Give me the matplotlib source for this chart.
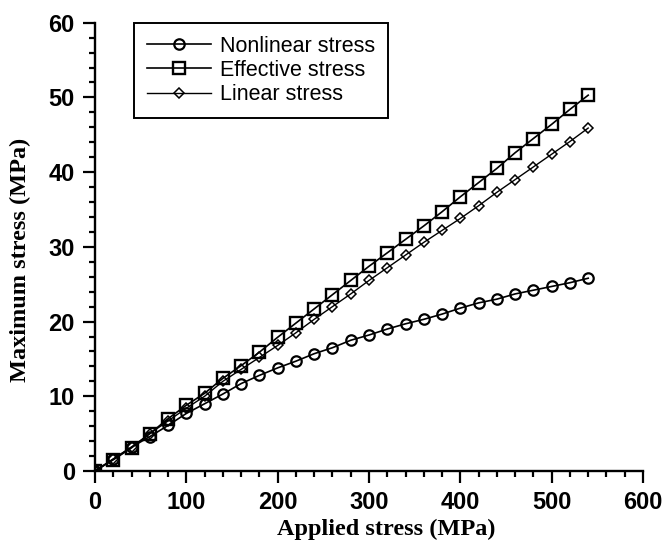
import matplotlib
matplotlib.use("Agg")
import matplotlib.pyplot as plt
from matplotlib.ticker import MultipleLocator

# applied stress (MPa) and the three computed maximum stresses (MPa)
applied = [0, 20, 40, 60, 80, 100, 120, 140, 160, 180, 200, 220, 240, 260,
           280, 300, 320, 340, 360, 380, 400, 420, 440, 460, 480, 500, 520, 540]
nonlinear = [0, 1.6, 3.2, 4.6, 6.1, 7.7, 9.0, 10.3, 11.7, 12.8, 13.8, 14.7, 15.7, 16.5,
             17.5, 18.2, 19.0, 19.7, 20.3, 21.0, 21.8, 22.5, 23.0, 23.7, 24.2, 24.7, 25.2, 25.8]
effective = [0, 1.5, 3.1, 5.0, 7.0, 8.8, 10.4, 12.4, 14.1, 15.9, 17.9, 19.8, 21.7, 23.6,
             25.5, 27.4, 29.2, 31.0, 32.8, 34.7, 36.7, 38.6, 40.5, 42.6, 44.5, 46.4, 48.4, 50.3]
linear = [0, 1.6, 3.2, 5.0, 6.7, 8.4, 10.0, 12.0, 13.6, 15.2, 16.8, 18.5, 20.3, 22.0,
          23.7, 25.5, 27.2, 28.9, 30.6, 32.2, 33.8, 35.5, 37.3, 39.0, 40.7, 42.4, 44.1, 45.9]

fig = plt.figure(figsize=(6.62, 5.42), dpi=100)
ax = fig.add_axes([0.1435, 0.131, 0.8278, 0.8271])

ax.plot(applied, nonlinear, "-o", color="black", lw=1.2, ms=7.5, mew=1.6,
        fillstyle="none", label="Nonlinear stress")
ax.plot(applied, effective, "-s", color="black", lw=1.2, ms=8, mew=1.7,
        fillstyle="none", label="Effective stress")
ax.plot(applied, linear, "-D", color="black", lw=1.0, ms=5.5, mew=1.1,
        fillstyle="none", label="Linear stress")

ax.set_xlim(0, 600)
ax.set_ylim(0, 60)
ax.xaxis.set_major_locator(MultipleLocator(100))
ax.xaxis.set_minor_locator(MultipleLocator(20))
ax.yaxis.set_major_locator(MultipleLocator(10))
ax.yaxis.set_minor_locator(MultipleLocator(2))

for s in ["top", "right"]:
    ax.spines[s].set_visible(False)
for s in ["left", "bottom"]:
    ax.spines[s].set_linewidth(1.7)

ax.tick_params(which="major", direction="out", length=8.5, width=1.6, pad=6,
               labelsize=17)
ax.tick_params(which="minor", direction="out", length=4.5, width=1.6)
for lab in ax.get_xticklabels() + ax.get_yticklabels():
    lab.set_fontfamily("Liberation Sans")
    lab.set_fontweight("bold")

ax.set_xlabel("Applied stress (MPa)", fontfamily="Liberation Serif",
              fontweight="bold", fontsize=17.5)
ax.set_ylabel("Maximum stress (MPa)", fontfamily="Liberation Serif",
              fontweight="bold", fontsize=17.5)
ax.xaxis.set_label_coords(0.531, -0.106)
ax.yaxis.set_label_coords(-0.117, 0.471)

leg = ax.legend(loc="upper left", bbox_to_anchor=(0.071, 1.0), borderaxespad=0,
                prop={"family": "Liberation Sans", "size": 15.5},
                handlelength=3.0, handletextpad=0.4, labelspacing=0.15,
                borderpad=0.6, fancybox=False, framealpha=1)
leg.get_frame().set_edgecolor("black")
leg.get_frame().set_linewidth(1.4)

fig.savefig("out.png", dpi=100)
